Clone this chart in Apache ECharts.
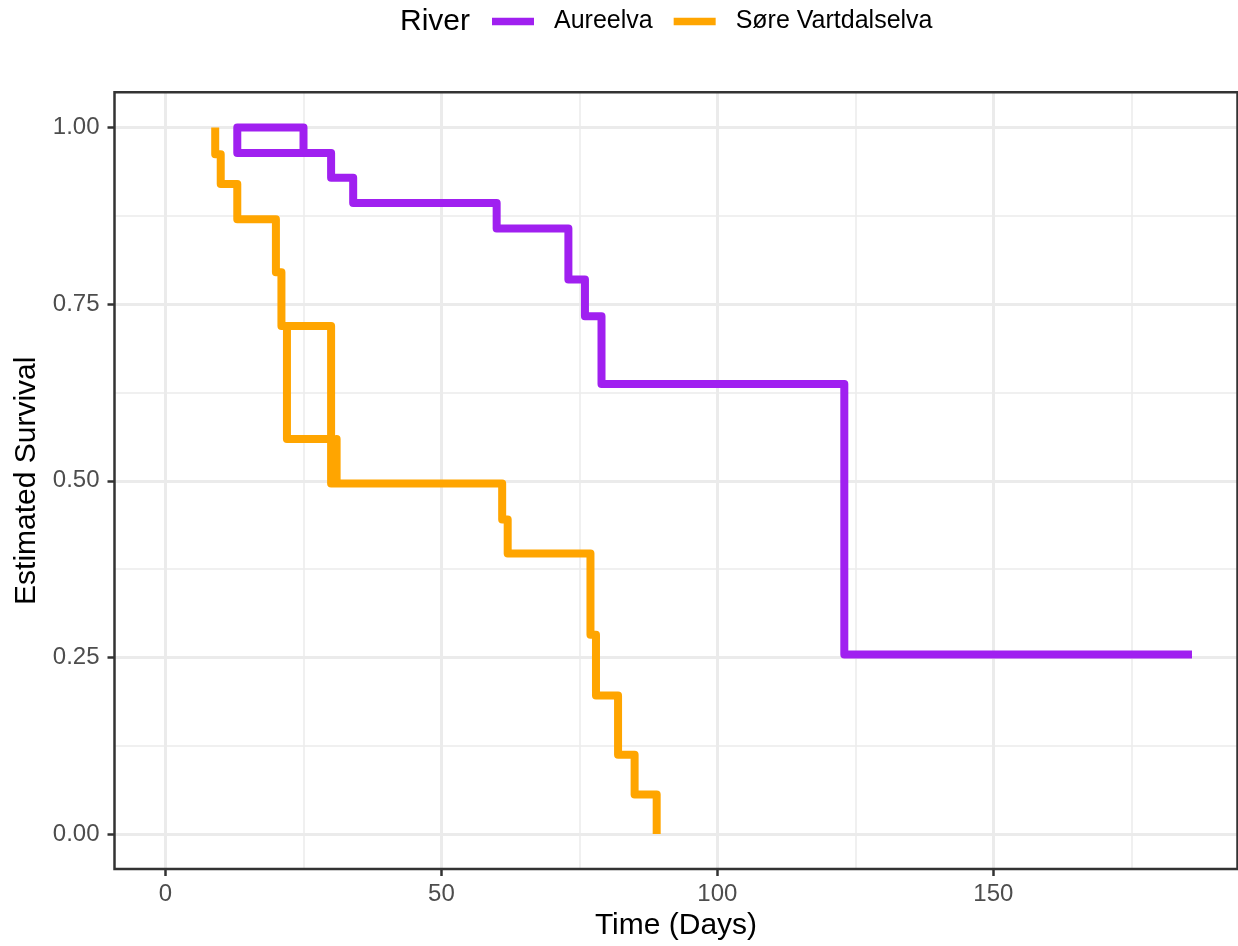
<!DOCTYPE html>
<html>
<head>
<meta charset="utf-8">
<title>Estimated survival by river</title>
<script src="https://cdn.jsdelivr.net/npm/echarts@6/dist/echarts.min.js"></script>
<style>
  html, body { margin: 0; padding: 0; background: #fff; }
  #chart { width: 1238px; height: 946px; }
</style>
</head>
<body>
<div id="chart"></div>
<script>
// survival curves, points listed in the order the path is drawn
// (each step goes across first, then down/up, like geom_step "hv")
const aureTime = [13, 13, 25, 13, 30, 34, 60, 73, 76, 79, 123, 186];
const aureSurv = [0.964, 1.000, 0.964, 0.964, 0.929, 0.893, 0.857, 0.785, 0.733, 0.637, 0.254, 0.254];

const soreTime = [9, 9, 10, 13, 20, 21, 30, 22, 22, 30, 31, 31, 61, 62, 77, 78, 82, 85, 89];
const soreSurv = [1.000, 0.962, 0.920, 0.870, 0.795, 0.719, 0.559, 0.719, 0.559, 0.496, 0.559, 0.496,
                  0.445, 0.397, 0.282, 0.196, 0.112, 0.056, 0.000];

const rivers = ['Aureelva', 'Søre Vartdalselva'];
const riverColors = ['#A020F0', '#FFA500'];
const timeTicks = [0, 50, 100, 150];

const FONT = '"Liberation Sans", Arial, sans-serif';

function pairs(xs, ys) {
  return xs.map((x, i) => [x, ys[i]]);
}

const chart = echarts.init(document.getElementById('chart'));

const tickLine = { color: '#333333', width: 2.5 };
const majorGrid = { color: '#EBEBEB', width: 3 };
const minorGrid = { color: '#EBEBEB', width: 1.5 };

const option = {
  animation: false,
  backgroundColor: '#ffffff',
  textStyle: { fontFamily: FONT },
  title: {
    text: 'River',
    left: 400,
    top: 7,
    padding: 0,
    textStyle: { fontSize: 30, fontWeight: 'normal', color: '#000', fontFamily: FONT }
  },
  legend: {
    data: rivers,
    left: 492,
    top: 9,
    padding: 0,
    icon: 'rect',
    itemWidth: 42,
    itemHeight: 7.5,
    itemGap: 21,
    textStyle: { fontSize: 25, color: '#000', fontFamily: FONT, padding: [0, 0, 0, 15] }
  },
  grid: [
    // panel frame (drawn on top), -0.05..1.05 vertically
    { left: 114.5, right: 0.5, top: 92.2, bottom: 76.7, show: true, z: 10,
      backgroundColor: 'rgba(0,0,0,0)', borderColor: '#333333', borderWidth: 2.5 },
    // inner area 0..1, used for the y axis and the curves
    { left: 114.5, right: 0.5, top: 127.5, bottom: 112 }
  ],
  xAxis: [
    {
      gridIndex: 0, type: 'value', min: -9.25, max: 194.25, splitNumber: 4,
      name: 'Time (Days)', nameLocation: 'middle', nameGap: 42,
      nameTextStyle: { fontSize: 30, color: '#000', fontFamily: FONT },
      axisLine: { show: false, onZero: false },
      axisTick: { show: true, customValues: timeTicks, length: 7, lineStyle: tickLine },
      axisLabel: { customValues: timeTicks, margin: 13, fontSize: 24, color: '#4D4D4D', fontFamily: FONT },
      splitLine: { show: true, lineStyle: majorGrid },
      minorTick: { show: false, splitNumber: 2 },
      minorSplitLine: { show: true, lineStyle: minorGrid }
    },
    { gridIndex: 1, type: 'value', min: -9.25, max: 194.25, show: false }
  ],
  yAxis: [
    { gridIndex: 0, type: 'value', min: -0.05, max: 1.05, show: false },
    {
      gridIndex: 1, type: 'value', min: 0, max: 1, interval: 0.25,
      name: 'Estimated Survival', nameLocation: 'middle', nameGap: 72,
      nameTextStyle: { fontSize: 30, color: '#000', fontFamily: FONT },
      axisLine: { show: false, onZero: false },
      axisTick: { show: true, length: 7, lineStyle: tickLine },
      axisLabel: { margin: 15, fontSize: 24, color: '#4D4D4D', fontFamily: FONT,
                   formatter: v => v.toFixed(2) },
      splitLine: { show: true, lineStyle: majorGrid },
      minorTick: { show: false, splitNumber: 2 },
      minorSplitLine: { show: true, lineStyle: minorGrid }
    }
  ],
  series: [
    [aureTime, aureSurv],
    [soreTime, soreSurv]
  ].map(([t, s], i) => ({
    name: rivers[i],
    type: 'line',
    xAxisIndex: 1,
    yAxisIndex: 1,
    step: 'end',
    data: pairs(t, s),
    symbol: 'none',
    showSymbol: false,
    clip: false,
    itemStyle: { color: riverColors[i] },
    lineStyle: { color: riverColors[i], width: 8, join: 'round', cap: 'butt' }
  }))
};

chart.setOption(option);
</script>
</body>
</html>
